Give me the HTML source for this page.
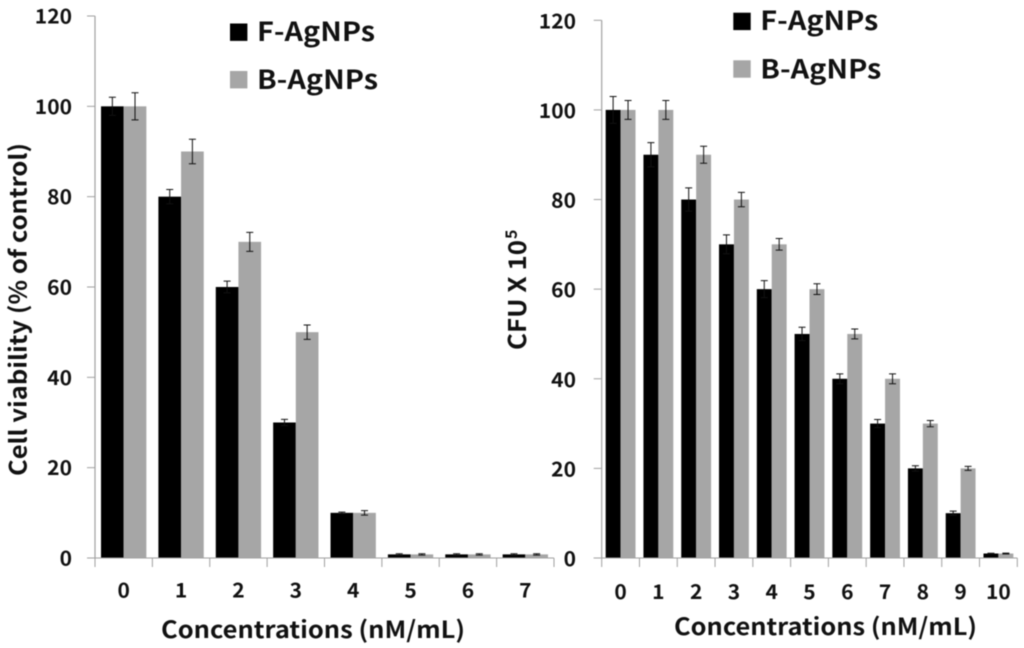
<!DOCTYPE html>
<html>
<head>
<meta charset="utf-8">
<style>
html,body{margin:0;padding:0;background:#fff;width:1024px;height:648px;overflow:hidden}
svg{display:block;filter:blur(0.45px)}
text{font-family:"Noto Sans CJK KR","Liberation Sans",sans-serif;font-weight:700;fill:#111}
</style>
</head>
<body>
<svg id="figure" xmlns="http://www.w3.org/2000/svg" width="1024" height="648" viewBox="0 0 1024 648"></svg>
<script>
const leftCategories = ['0','1','2','3','4','5','6','7'];
const leftFValues = [100,80,60,30,10,0.8,0.8,0.8];
const leftBValues = [100,90,70,50,10,0.8,0.8,0.8];
const leftFErrors = [2,1.6,1.3,0.7,0.15,0.15,0.15,0.15];
const leftBErrors = [3,2.7,2.1,1.6,0.5,0.15,0.15,0.15];

const rightCategories = ['0','1','2','3','4','5','6','7','8','9','10'];
const rightFValues = [100,90,80,70,60,50,40,30,20,10,1];
const rightBValues = [100,100,90,80,70,60,50,40,30,20,1];
const rightFErrors = [3,2.7,2.6,2.1,1.9,1.5,1.1,0.9,0.6,0.45,0.05];
const rightBErrors = [2.1,2.1,1.9,1.6,1.3,1.2,1.1,1.1,0.7,0.45,0.1];

const yTickValues = [0,20,40,60,80,100,120];

const NS = 'http://www.w3.org/2000/svg';
const root = document.getElementById('figure');

function make(tag, attrs, text) {
  const el = document.createElementNS(NS, tag);
  for (const k in attrs) el.setAttribute(k, attrs[k]);
  if (text !== undefined) el.textContent = text;
  root.appendChild(el);
  return el;
}

function drawPanel(p) {
  const yScale = v => p.y0 - v * (p.y0 - p.yTop) / 120;
  const step = (p.xEnd - p.x0) / p.categories.length;
  const barW = step * 0.395;
  const xScale = i => p.x0 + step * i + step / 2;

  // bars and error bars
  p.categories.forEach((c, i) => {
    const series = [
      {key: 'f', color: '#000000', vals: p.fValues, errs: p.fErrors, x: xScale(i) - barW},
      {key: 'b', color: '#a6a6a6', vals: p.bValues, errs: p.bErrors, x: xScale(i)}
    ];
    series.forEach(s => {
      const top = yScale(s.vals[i]);
      const bar = make('rect', {x: s.x, y: top, width: barW, height: p.y0 - top, fill: s.color});
      
      

      const cx = s.x + barW / 2;
      const hi = yScale(s.vals[i] + s.errs[i]);
      const lo = yScale(s.vals[i] - s.errs[i]);
      const d = 'M' + cx + ' ' + hi + 'V' + lo +
                'M' + (cx - 3.5) + ' ' + hi + 'H' + (cx + 3.5) +
                'M' + (cx - 3.5) + ' ' + lo + 'H' + (cx + 3.5);
      const err = make('path', {d: d, stroke: '#111', 'stroke-width': 1, fill: 'none'});
      
      
    });
  });

  // y axis
  const yAxis = make('line', {x1: p.x0, x2: p.x0, y1: p.yTop, y2: p.y0, stroke: '#a0a0a0', 'stroke-width': 1.2});
  
  

  yTickValues.forEach(v => {
    const tick = make('line', {x1: p.x0 - 8, x2: p.x0, y1: yScale(v), y2: yScale(v), stroke: '#a0a0a0', 'stroke-width': 1});
    
    
    const s = String(v);
    const label = make('text', {x: p.yLabelX - s.length * 12.4, y: yScale(v) + p.yLabelDy, 'font-size': 20, textLength: s.length * 12.4, lengthAdjust: 'spacingAndGlyphs'}, s);
    
    
  });

  // x axis
  const xAxis = make('line', {x1: p.x0 - 8, x2: p.xEnd, y1: p.y0, y2: p.y0, stroke: '#a0a0a0', 'stroke-width': 1});
  
  

  for (let i = 0; i <= p.categories.length; i++) {
    const tx = p.x0 + step * i;
    const tick = make('line', {x1: tx, x2: tx, y1: p.y0, y2: p.y0 + 9, stroke: '#a0a0a0', 'stroke-width': 1});
    
    
  }
  p.categories.forEach((c, i) => {
    const w = c.length * 12.4;
    const label = make('text', {x: xScale(i) - w / 2, y: p.xLabelY, 'font-size': 20, textLength: w, lengthAdjust: 'spacingAndGlyphs'}, c);
    
    
  });

  // x axis title
  const xTitle = make('text', {x: p.xTitleX, y: p.xTitleY, 'font-size': 23.5, textLength: p.xTitleW, lengthAdjust: 'spacingAndGlyphs'}, 'Concentrations (nM/mL)');
  
  

  // legend
  const swatchF = make('rect', {x: p.legendX, y: p.legendFY, width: 17.4, height: 17.4, fill: '#000000'});
  
  
  const textF = make('text', {x: p.legendX + 27, y: p.legendFY + 17.4, 'font-size': 26.5, textLength: p.legendFW, lengthAdjust: 'spacingAndGlyphs'}, 'F-AgNPs');
  
  
  const swatchB = make('rect', {x: p.legendX, y: p.legendBY, width: 17.4, height: 17.4, fill: '#a6a6a6'});
  
  
  const textB = make('text', {x: p.legendX + 27, y: p.legendBY + 18, 'font-size': 26.5, textLength: p.legendBW, lengthAdjust: 'spacingAndGlyphs'}, 'B-AgNPs');
  
  
}

drawPanel({
  id: 'left-chart', categories: leftCategories,
  fValues: leftFValues, bValues: leftBValues, fErrors: leftFErrors, bErrors: leftBErrors,
  x0: 95, xEnd: 554, y0: 558, yTop: 16,
  yLabelX: 72, yLabelDy: 7.5, xLabelY: 597.5,
  xTitleX: 161, xTitleY: 638, xTitleW: 304,
  legendX: 230, legendFY: 23.5, legendBY: 71, legendFW: 118, legendBW: 121
});

drawPanel({
  id: 'right-chart', categories: rightCategories,
  fValues: rightFValues, bValues: rightBValues, fErrors: rightFErrors, bErrors: rightBErrors,
  x0: 601.7, xEnd: 1017.3, y0: 558, yTop: 20.3,
  yLabelX: 576, yLabelDy: 8, xLabelY: 599,
  xTitleX: 674, xTitleY: 635, xTitleW: 303,
  legendX: 733.3, legendFY: 12.7, legendBY: 60.3, legendFW: 118, legendBW: 121
});

const leftYTitle = make('text', {transform: 'translate(26.5,476) rotate(-90)', 'font-size': 23.5, textLength: 333, lengthAdjust: 'spacingAndGlyphs'}, 'Cell viability (% of control)');



const rightYTitle = make('text', {transform: 'translate(526,350) rotate(-90)', 'font-size': 24, textLength: 110, lengthAdjust: 'spacingAndGlyphs'}, 'CFU X 10');



const rightYSup = make('text', {transform: 'translate(517,239) rotate(-90)', 'font-size': 16}, '5');


</script>
</body>
</html>
